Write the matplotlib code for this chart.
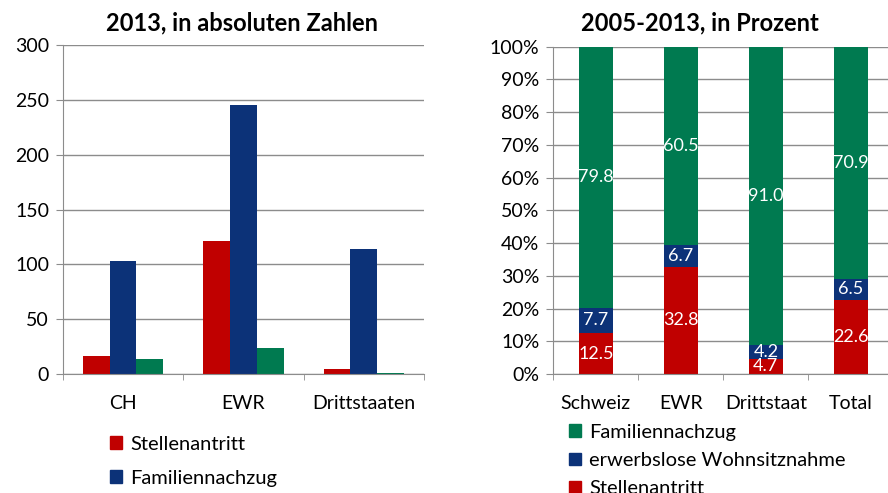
import numpy as np
import matplotlib
matplotlib.use('Agg')
import matplotlib.pyplot as plt
from matplotlib.patches import Patch
from matplotlib.ticker import FixedLocator, PercentFormatter

plt.rcParams['font.family'] = ['Lato', 'DejaVu Sans']

# left chart: 2013 absolute numbers
regions = ['CH', 'EWR', 'Drittstaaten']
stellen_2013 = [16, 121, 5]
familie_2013 = [103, 245, 114]
erwerbslos_2013 = [14, 24, 1]
left_labels = ['Stellenantritt', 'Familiennachzug']

# right chart: 2005-2013 shares in percent
groups = ['Schweiz', 'EWR', 'Drittstaat', 'Total']
stellen_pct = [12.5, 32.8, 4.7, 22.6]
erwerbslos_pct = [7.7, 6.7, 4.2, 6.5]
familie_pct = [79.8, 60.5, 91.0, 70.9]
right_labels = ['Familiennachzug', 'erwerbslose Wohnsitznahme', 'Stellenantritt']

red = '#C00000'
blue = '#0C3278'
green = '#007A50'
grid_col = '#8C8C8C'

fig = plt.figure(figsize=(8.88, 4.93), dpi=100)
ax1 = fig.add_axes([0.0709, 0.2414, 0.4066, 0.6673])
ax2 = fig.add_axes([0.6231, 0.2414, 0.3829, 0.6640])


def style_axes(ax):
    ax.spines['top'].set_visible(False)
    ax.spines['right'].set_visible(False)
    ax.spines['left'].set_color(grid_col)
    ax.spines['bottom'].set_color(grid_col)
    ax.yaxis.grid(True, color=grid_col, linewidth=1)
    ax.set_axisbelow(True)
    ax.tick_params(axis='y', length=5, color=grid_col, labelsize=14, pad=5)
    ax.tick_params(axis='x', which='major', length=0, labelsize=14, pad=15)
    ax.tick_params(axis='x', which='minor', length=4.5, color=grid_col)


# grouped bars
x = np.arange(len(regions))
w = 0.222
ax1.bar(x - w, stellen_2013, w, color=red)
ax1.bar(x, familie_2013, w, color=blue)
ax1.bar(x + w, erwerbslos_2013, w, color=green)
ax1.set_xlim(-0.5, len(regions) - 0.5)
ax1.set_ylim(0, 300)
ax1.set_yticks(range(0, 301, 50))
ax1.set_xticks(x)
ax1.set_xticklabels(regions)
ax1.xaxis.set_minor_locator(FixedLocator(np.arange(-0.5, len(regions), 1)))
style_axes(ax1)

# stacked 100% bars
x2 = np.arange(len(groups))
bw = 0.4
b1 = ax2.bar(x2, stellen_pct, bw, color=red)
b2 = ax2.bar(x2, erwerbslos_pct, bw, bottom=stellen_pct, color=blue)
bottom3 = np.array(stellen_pct) + np.array(erwerbslos_pct)
b3 = ax2.bar(x2, familie_pct, bw, bottom=bottom3, color=green)
for bars in (b1, b2, b3):
    ax2.bar_label(bars, labels=['%.1f' % b.get_height() for b in bars],
                  label_type='center', color='white', fontsize=13)
ax2.set_xlim(-0.5, len(groups) - 0.5)
ax2.set_ylim(0, 100)
ax2.set_yticks(range(0, 101, 10))
ax2.yaxis.set_major_formatter(PercentFormatter(100, decimals=0))
ax2.set_xticks(x2)
ax2.set_xticklabels(groups)
ax2.xaxis.set_minor_locator(FixedLocator(np.arange(-0.5, len(groups), 1)))
style_axes(ax2)

fig.text(0.2725, 0.953, '2013, in absoluten Zahlen', ha='center', va='center',
         fontsize=17, fontweight='bold')
fig.text(0.788, 0.953, '2005-2013, in Prozent', ha='center', va='center',
         fontsize=17, fontweight='bold')

leg1 = [Patch(color=red), Patch(color=blue)]
fig.legend(leg1, left_labels, loc='upper left', bbox_to_anchor=(0.124, 0.116),
           frameon=False, fontsize=14.5, handlelength=0.6, handleheight=0.6,
           handletextpad=0.4, labelspacing=0.85, borderaxespad=0, borderpad=0)

leg2 = [Patch(color=green), Patch(color=blue), Patch(color=red)]
fig.legend(leg2, right_labels, loc='upper left', bbox_to_anchor=(0.641, 0.140),
           frameon=False, fontsize=14.5, handlelength=0.6, handleheight=0.6,
           handletextpad=0.4, labelspacing=0.55, borderaxespad=0, borderpad=0)

fig.savefig('out.png', dpi=100)
